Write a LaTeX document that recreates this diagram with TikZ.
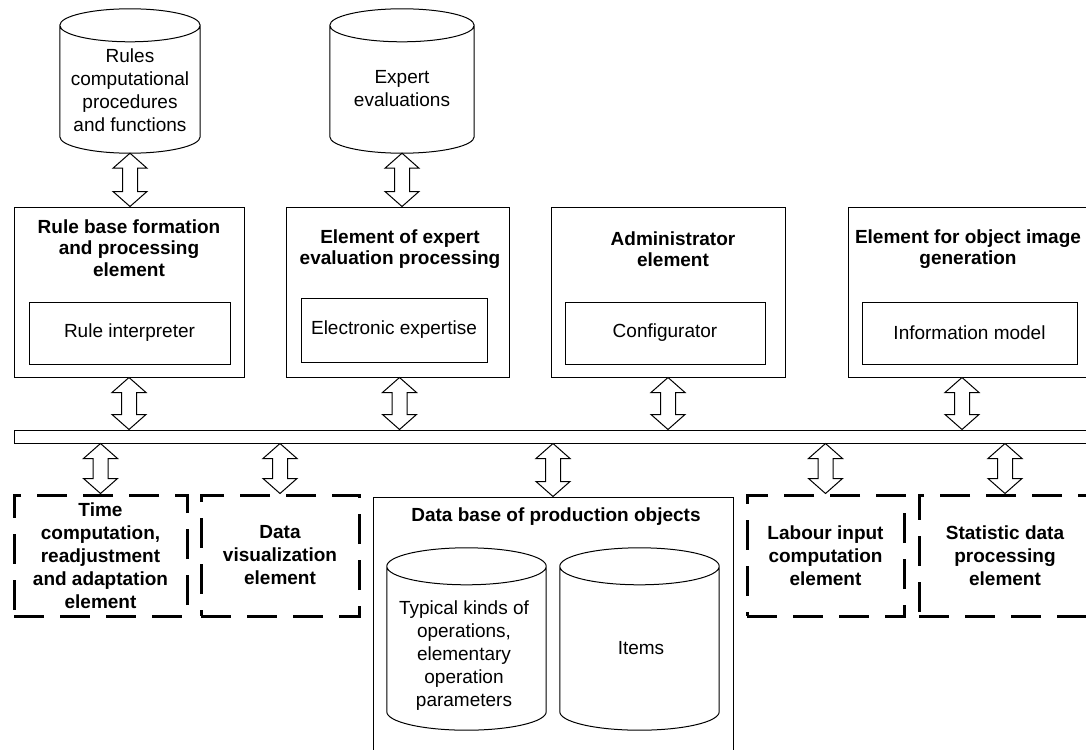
\documentclass[tikz,border=0pt]{standalone}
\usepackage{fontspec}
\setmainfont{Liberation Sans}
\usetikzlibrary{calc}

% hollow two-headed arrow from #1 (upper end) down to #2 (lower end)
\newcommand{\dblarrow}[2]{%
  \draw[arrowbody] let \p1=(#1), \p2=(#2) in
    (\x1,\y1) -- (\x1-17pt,\y1-15pt) -- (\x1-7.5pt,\y1-15pt) -- (\x1-7.5pt,\y2+15pt)
    -- (\x1-17pt,\y2+15pt) -- (\x1,\y2) -- (\x1+17pt,\y2+15pt) -- (\x1+7.5pt,\y2+15pt)
    -- (\x1+7.5pt,\y1-15pt) -- (\x1+17pt,\y1-15pt) -- cycle;}

% data base cylinder round node #1, ellipse half height #2 (pt)
\newcommand{\dbshape}[2]{%
  \draw[thinline] let \p1=(#1.north west), \p2=(#1.south east), \n1={(\x2-\x1)/2} in
    (\x1,\y1-#2pt) -- (\x1,\y2+#2pt) arc[start angle=180,end angle=360,x radius=\n1,y radius=#2pt]
    -- (\x2,\y1-#2pt) arc[start angle=0,end angle=360,x radius=\n1,y radius=#2pt];}

\begin{document}
\begin{tikzpicture}[x=1pt,y=1pt,
    thinline/.style={line width=1pt},
    plainfont/.style={font=\fontsize{19}{23}\selectfont,align=center},
    headfont/.style={font=\fontsize{19}{21.5}\selectfont\bfseries,align=center},
    blockbox/.style={draw,thinline,inner sep=0pt},
    dashbox/.style={draw,line width=3pt,dash pattern=on 30pt off 16pt,inner sep=0pt,
      align=center,font=\fontsize{19}{23}\selectfont\bfseries},
    dbbody/.style={inner sep=0pt},
    arrowbody/.style={thinline,fill=white}]
  \clip (0,0) rectangle (1086,-749);

  % Data bases on top
  \node[dbbody,minimum width=140pt,minimum height=144pt] (rules) at (130,-81) {};
  \dbshape{rules}{16.5}
  \node[plainfont] (rulestext) at (130,-90) {Rules\\computational\\procedures\\and functions};

  \node[dbbody,minimum width=144pt,minimum height=144pt] (expert) at (402,-81) {};
  \dbshape{expert}{16.5}
  \node[plainfont] (experttext) at (402,-89) {Expert\\evaluations};

  % Upper row of elements
  \node[blockbox,minimum width=230pt,minimum height=170pt] (rulebox) at (129,-292) {};
  \node[headfont] (rulehead) at (129,-248) {Rule base formation\\and processing\\element};
  \node[blockbox,plainfont,minimum width=201pt,minimum height=62pt] (interp) at (129.5,-333) {Rule interpreter};

  \node[blockbox,minimum width=223pt,minimum height=170pt] (expbox) at (397.5,-292) {};
  \node[headfont] (exphead) at (400,-249) {Element of expert\\evaluation processing};
  \node[blockbox,plainfont,minimum width=186pt,minimum height=64pt] (expertise) at (394,-330) {Electronic expertise};

  \node[blockbox,minimum width=234pt,minimum height=170pt] (admbox) at (668,-292) {};
  \node[headfont] (admhead) at (673,-249) {Administrator\\element};
  \node[blockbox,plainfont,minimum width=200pt,minimum height=62pt] (config) at (665,-333) {Configurator};

  \node[blockbox,minimum width=244pt,minimum height=170pt] (imgbox) at (970,-292) {};
  \node[headfont] (imghead) at (968,-249) {Element for object image\\generation};
  \node[blockbox,plainfont,minimum width=215pt,minimum height=62pt] (infomodel) at (969.5,-333) {Information model};

  % Bus
  \node[blockbox,minimum width=1090pt,minimum height=13pt] (bus) at (559,-436.5) {};

  % Lower row of elements
  \node[dashbox,minimum width=173pt,minimum height=121pt] (timebox) at (100.5,-555.5)
    {Time\\computation,\\readjustment\\and adaptation\\element};
  \node[dashbox,minimum width=158pt,minimum height=121pt] (visbox) at (280,-555.5)
    {Data\\visualization\\element};
  \node[dashbox,minimum width=157pt,minimum height=121pt] (labbox) at (825.5,-555.5)
    {Labour input\\computation\\element};
  \node[dashbox,minimum width=172pt,minimum height=121pt] (statbox) at (1005,-555.5)
    {Statistic data\\processing\\element};

  % Data base of production objects
  \node[blockbox,minimum width=360pt,minimum height=273pt] (prodbox) at (553,-633.5) {};
  \node[headfont] (prodhead) at (556,-517) {Data base of production objects};
  \node[dbbody,minimum width=159pt,minimum height=182pt] (opcyl) at (466.5,-639) {};
  \dbshape{opcyl}{18.5}
  \node[plainfont] (optext) at (464,-656) {Typical kinds of\\operations,\\elementary\\operation\\parameters};
  \node[dbbody,minimum width=159pt,minimum height=182pt] (itemcyl) at (639.5,-639) {};
  \dbshape{itemcyl}{18.5}
  \node[plainfont] (itemtext) at (641,-648) {Items};

  % Arrows
  \dblarrow{rules.south}{rulebox.north}
  \dblarrow{expert.south}{expbox.north}
  \dblarrow{rulebox.south}{rulebox.south |- bus.north}
  \dblarrow{[xshift=2]expbox.south}{[xshift=2]expbox.south |- bus.north}
  \dblarrow{admbox.south}{admbox.south |- bus.north}
  \dblarrow{[xshift=-8]imgbox.south}{[xshift=-8]imgbox.south |- bus.north}
  \dblarrow{timebox.north |- bus.south}{timebox.north}
  \dblarrow{visbox.north |- bus.south}{visbox.north}
  \dblarrow{prodbox.north |- bus.south}{prodbox.north}
  \dblarrow{labbox.north |- bus.south}{labbox.north}
  \dblarrow{statbox.north |- bus.south}{statbox.north}
\end{tikzpicture}
\end{document}
